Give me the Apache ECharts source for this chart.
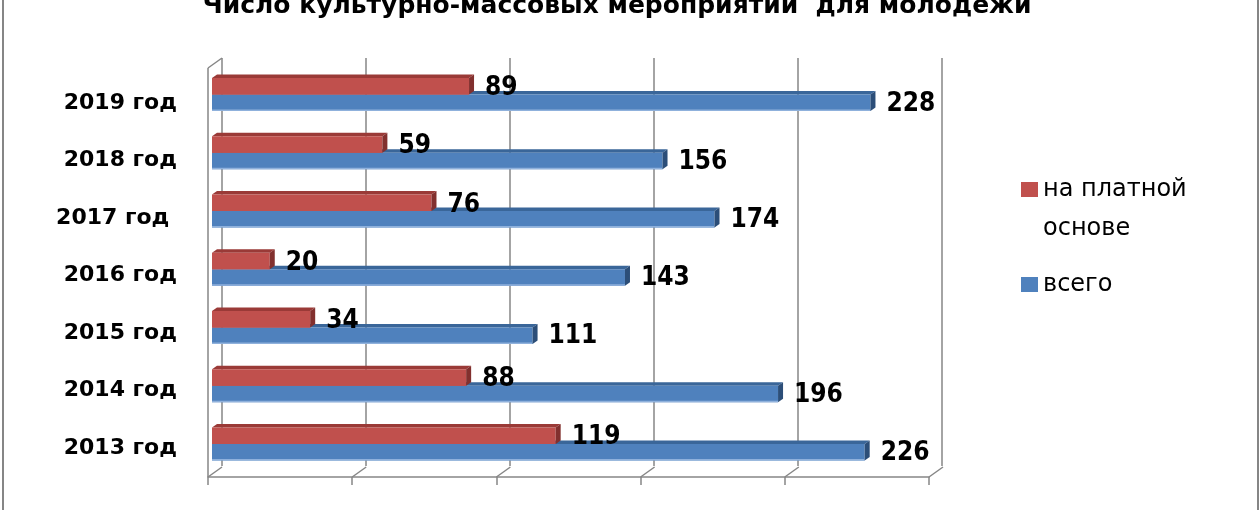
<!DOCTYPE html>
<html>
<head>
<meta charset="utf-8">
<script src="https://cdn.jsdelivr.net/npm/echarts/dist/echarts.min.js"></script>
<style>
html,body{margin:0;padding:0;background:#fff;}
#chart{position:absolute;left:0;top:0;width:1260px;height:510px;}
#frame{position:absolute;left:2px;top:0;width:1253px;height:510px;border-left:2px solid #868686;border-right:2px solid #868686;pointer-events:none;}
</style>
</head>
<body>
<div id="chart"></div>
<div id="frame"></div>
<script>
const titleText = 'Число культурно-массовых мероприятий  для молодежи';
const categories = ['2013 год', '2014 год', '2015 год', '2016 год', '2017 год ', '2018 год', '2019 год'];
const paidValues = [119, 88, 34, 20, 76, 59, 89];
const totalValues = [226, 196, 111, 143, 174, 156, 228];
const seriesNames = ['на платной основе', 'всего'];
const xTicks = [0, 50, 100, 150, 200, 250];

const FONT = 'DejaVu Sans';
const LABEL_FONT = 'DejaVu Sans Condensed';
const GRID_COLOR = '#868686';

function make3DBar(colorFront, colorTop, colorSide, colorEdge, upper, labelDy) {
  return function (params, api) {
    const v = api.value(0), idx = api.value(1);
    const p0 = api.coord([0, idx]);
    const p1 = api.coord([v, idx]);
    const band = api.size([0, 1])[1];
    const bw = band * 0.283;
    const yTop = upper ? p0[1] - bw : p0[1];
    const yBot = yTop + bw;
    const x0 = p0[0], x1 = p1[0];
    const dx = 5, dy = 3.5;
    return {
      type: 'group',
      children: [
        { type: 'polygon', shape: { points: [[x0, yTop], [x1, yTop], [x1 + dx, yTop - dy], [x0 + dx, yTop - dy]] }, style: { fill: colorTop } },
        { type: 'rect', shape: { x: x0, y: yTop, width: x1 - x0, height: bw }, style: { fill: colorFront } },
        { type: 'line', shape: { x1: x0, y1: yBot - 0.75, x2: x1, y2: yBot - 0.75 }, style: { stroke: colorEdge, lineWidth: 1.5 } },
        { type: 'polygon', shape: { points: [[x1, yTop], [x1 + dx, yTop - dy], [x1 + dx, yBot - dy], [x1, yBot]] }, style: { fill: colorSide } },
        { type: 'text', style: { text: String(v), x: x1 + 16, y: (yTop + yBot) / 2 + labelDy, align: 'left', verticalAlign: 'middle', fontFamily: LABEL_FONT, fontWeight: 'bold', fontSize: 26, fill: '#000' } }
      ]
    };
  };
}

function renderFrame(params, api) {
  const cs = params.coordSys;
  const v = api.value(0);
  const x = api.coord([v, 0])[0];
  const bottom = cs.y + cs.height;
  const st = { stroke: GRID_COLOR, lineWidth: 1.5 };
  const children = [
    { type: 'line', shape: { x1: x, y1: bottom, x2: x + 14, y2: bottom - 10 }, style: st }
  ];
  if (v === 0) {
    children.push({ type: 'line', shape: { x1: x, y1: cs.y - 6, x2: x, y2: bottom }, style: st });
    children.push({ type: 'line', shape: { x1: x, y1: cs.y - 6, x2: x + 14, y2: cs.y - 16 }, style: st });
  }
  return { type: 'group', children: children };
}

const chart = echarts.init(document.getElementById('chart'), null, { renderer: 'canvas' });
chart.setOption({
  backgroundColor: '#fff',
  animation: false,
  title: {
    text: titleText,
    left: 617,
    textAlign: 'center',
    top: -9,
    padding: 0,
    textStyle: { fontFamily: FONT, fontWeight: 'bold', fontSize: 25, color: '#000', lineHeight: 30 }
  },
  legend: {
    orient: 'vertical',
    left: 1021,
    top: 131,
    padding: 0,
    icon: 'rect',
    itemWidth: 17,
    itemHeight: 15,
    itemGap: 17,
    selectedMode: false,
    formatter: function (n) { return n.indexOf('платной ') >= 0 ? '\n' + n.replace('платной ', 'платной\n') : n; },
    textStyle: { fontFamily: FONT, fontSize: 24, color: '#000', lineHeight: 39 },
    data: [
      { name: seriesNames[0] },
      { name: seriesNames[1] }
    ]
  },
  grid: [
    { left: 222, width: 720, top: 58, height: 408, containLabel: false, outerBoundsMode: 'none' },
    { left: 208, width: 721, top: 74, height: 403, containLabel: false, outerBoundsMode: 'none' },
    { left: 212, width: 722, top: 65.4, height: 407.7, containLabel: false, outerBoundsMode: 'none' }
  ],
  xAxis: [
    { gridIndex: 0, type: 'value', min: 0, max: 250, interval: 50, axisLine: { show: false }, axisTick: { show: false }, axisLabel: { show: false }, splitLine: { show: true, lineStyle: { color: GRID_COLOR, width: 1.5 } } },
    { gridIndex: 1, type: 'value', min: 0, max: 250, interval: 50, axisLine: { show: true, onZero: false, lineStyle: { color: GRID_COLOR, width: 1.5 } }, axisTick: { show: true, length: 8, lineStyle: { color: GRID_COLOR, width: 1.5 } }, axisLabel: { show: false }, splitLine: { show: false } },
    { gridIndex: 2, type: 'value', min: 0, max: 250, interval: 50, show: false, splitLine: { show: false } }
  ],
  yAxis: [
    { gridIndex: 0, type: 'category', data: categories, show: false },
    { gridIndex: 1, type: 'category', data: categories, axisLine: { show: false }, axisTick: { show: false }, splitLine: { show: false },
      axisLabel: { margin: 31, fontFamily: FONT, fontWeight: 'bold', fontSize: 22, color: '#000' } },
    { gridIndex: 2, type: 'category', data: categories, show: false }
  ],
  series: [
    {
      name: 'frame', type: 'custom', xAxisIndex: 1, yAxisIndex: 1, silent: true,
      data: xTicks.map(function (v) { return [v, 0]; }),
      renderItem: renderFrame, z: 1
    },
    {
      name: seriesNames[1], type: 'custom', xAxisIndex: 2, yAxisIndex: 2,
      itemStyle: { color: '#4f81bd' },
      data: totalValues.map(function (v, i) { return [v, i]; }),
      renderItem: make3DBar('#4f81bd', '#3a6699', '#2c4e78', '#8fb1dc', false, 1), z: 3
    },
    {
      name: seriesNames[0], type: 'custom', xAxisIndex: 2, yAxisIndex: 2,
      itemStyle: { color: '#c0504d' },
      data: paidValues.map(function (v, i) { return [v, i]; }),
      renderItem: make3DBar('#c0504d', '#9a3a37', '#82302e', '#c0504d', true, 2), z: 4
    }
  ]
});
</script>
</body>
</html>
